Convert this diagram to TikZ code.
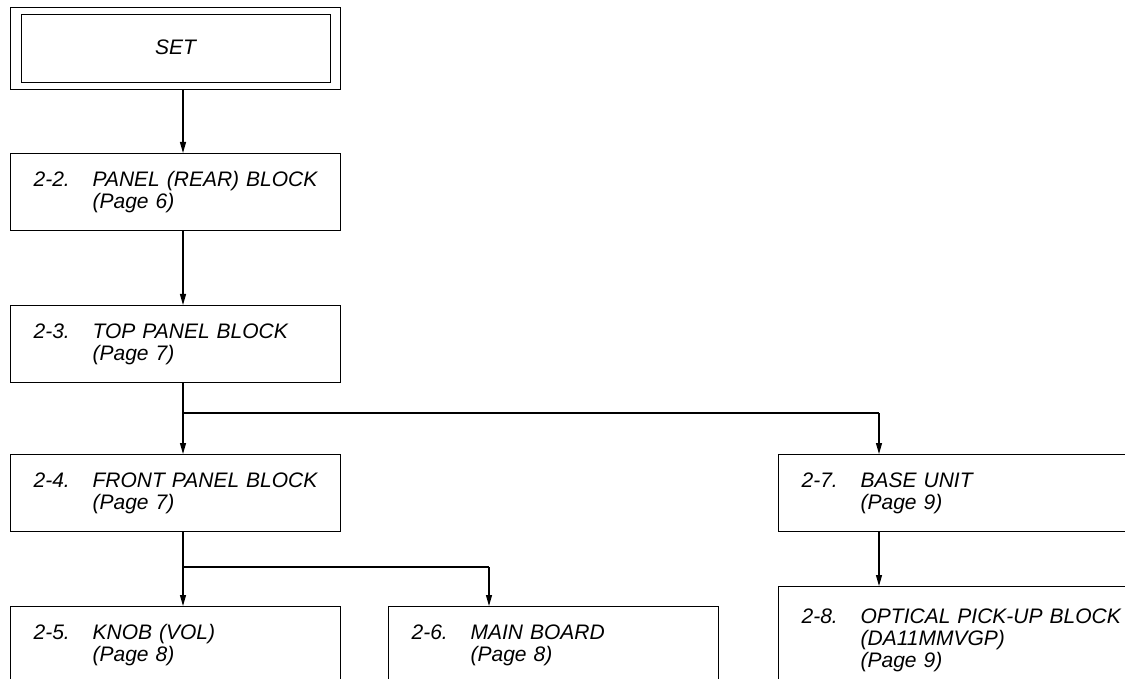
\documentclass[tikz,border=0pt]{standalone}
\usepackage{fontspec}
\setmainfont{Liberation Sans}
\usetikzlibrary{arrows.meta}
\begin{document}
\begin{tikzpicture}[x=1pt,y=1pt,
  line width=1.2pt,
  every node/.style={font=\fontsize{21}{22}\selectfont\itshape},
  blk/.style={draw, rectangle, anchor=north west, inner xsep=23pt, inner ysep=0pt,
    text width=#1, align=left, minimum height=77pt},
  blk/.default=284pt,
  arr/.style={-{Triangle[length=11pt,width=6pt]}},
]
\useasboundingbox (0,0) rectangle (1125,-679);
\clip (0,0) rectangle (1125,-679);
\newcommand{\nm}[1]{\makebox[59pt][l]{#1}}
\newcommand{\ind}{\hspace*{59pt}}
% SET
\node[draw, rectangle, anchor=north west, minimum width=330pt, minimum height=82pt, inner sep=0pt] (set) at (10,-7) {};
\node[draw, rectangle, minimum width=309pt, minimum height=68pt, inner sep=0pt] (setin) at (set.center) {\raisebox{2pt}{SET}};
% blocks
\node[blk] (b22) at (10,-153) {\nm{2-2.}PANEL (REAR) BLOCK\\\ind(Page 6)};
\node[blk] (b23) at (10,-305) {\nm{2-3.}TOP PANEL BLOCK\\\ind(Page 7)};
\node[blk] (b24) at (10,-454) {\nm{2-4.}FRONT PANEL BLOCK\\\ind(Page 7)};
\node[blk] (b25) at (10,-606) {\nm{2-5.}KNOB (VOL)\\\ind(Page 8)};
\node[blk] (b26) at (388,-606) {\nm{2-6.}MAIN BOARD\\\ind(Page 8)};
\node[blk=330pt] (b27) at (778,-454) {\nm{2-7.}BASE UNIT\\\ind(Page 9)};
\node[blk=330pt, minimum height=108pt] (b28) at (778,-586) {\nm{2-8.}OPTICAL PICK-UP BLOCK\\\ind(DA11MMVGP)\\\ind(Page 9)};
% connector coordinates
\coordinate (trunk) at (183,0);
\coordinate (j1) at (183,-413);
\coordinate (j1r) at (879,-413);
\coordinate (j2) at (183,-567);
\coordinate (j2r) at (489,-567);
% connectors
\draw[arr] (set.south -| trunk) -- (b22.north -| trunk);
\draw[arr] (b22.south -| trunk) -- (b23.north -| trunk);
\draw[arr] (b23.south -| trunk) -- (b24.north -| trunk);
\draw (j1) -- (j1r);
\draw[arr] (j1r) -- (b27.north -| j1r);
\draw[arr] (b24.south -| trunk) -- (b25.north -| trunk);
\draw (j2) -- (j2r);
\draw[arr] (j2r) -- (b26.north -| j2r);
\draw[arr] (b27.south -| j1r) -- (b28.north -| j1r);
\end{tikzpicture}
\end{document}
